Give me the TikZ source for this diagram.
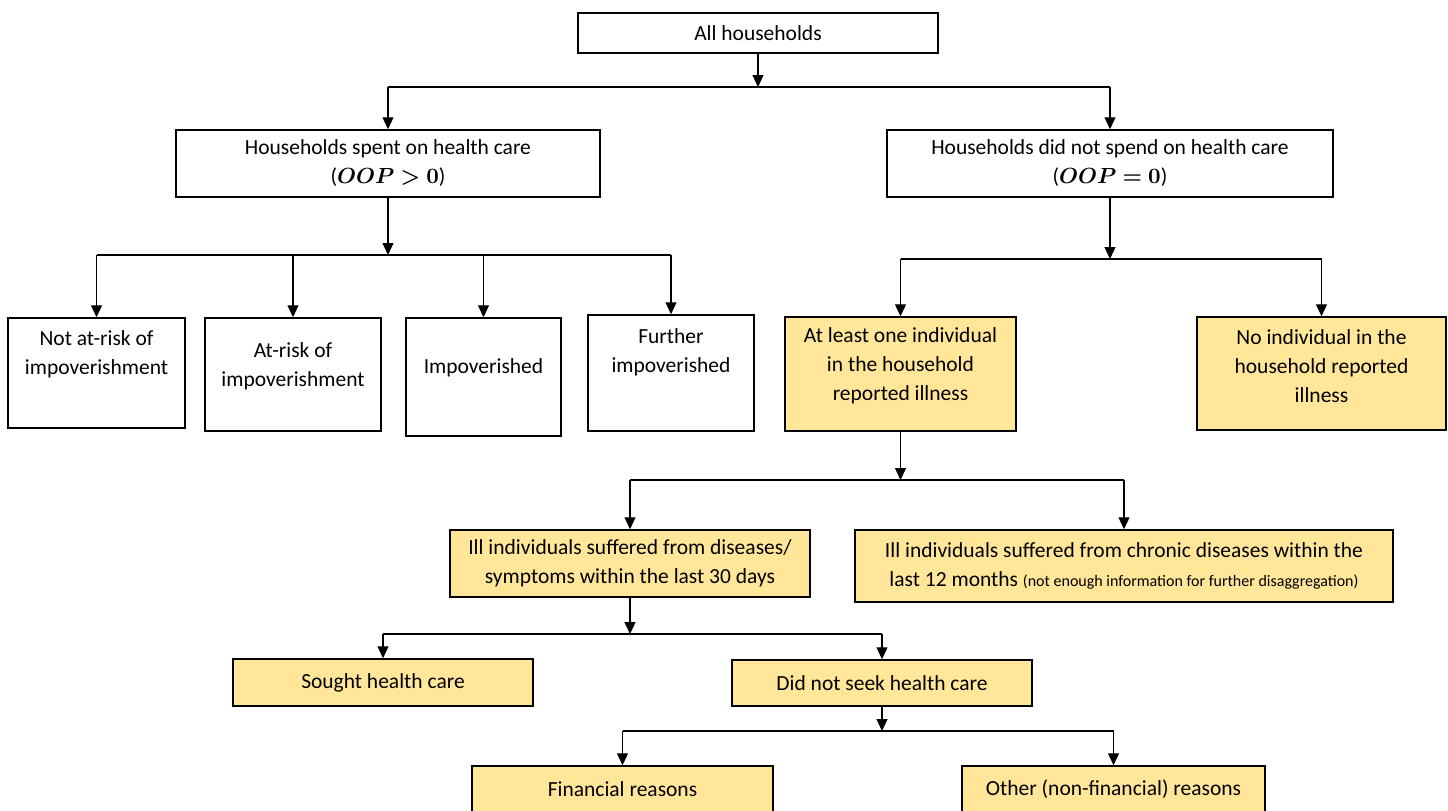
\documentclass[tikz,border=0pt]{standalone}
\usepackage{fontspec}
\setmainfont{Carlito}
\usepackage{amsmath}
\usepackage{amssymb}
\usepackage{bm}
\usetikzlibrary{arrows.meta}
\definecolor{boxgold}{RGB}{255,230,153}
\newcommand{\padb}[1]{\rule[-#1]{0pt}{0pt}}

\begin{document}
\begin{tikzpicture}[x=0.5pt,y=-0.5pt,
  box/.style={draw, line width=0.75pt, align=center, inner sep=2pt, font=\fontsize{10.75}{14.5}\selectfont},
  goldbox/.style={box, fill=boxgold},
  arr/.style={line width=0.6pt, -{Triangle[length=6pt,width=5.5pt]}},
  lnk/.style={line width=0.6pt}]
\useasboundingbox (0,0) rectangle (1448,810);

\node[box, minimum width=180pt, minimum height=20pt] (all) at (758,33) {All households};
\node[box, minimum width=212pt, minimum height=33.5pt] (spent) at (388,163.5) {Households spent on health care\\($\bm{OOP>0}$)};
\node[box, minimum width=223pt, minimum height=33.5pt] (nospend) at (1110,163.5) {Households did not spend on health care\\($\bm{OOP=0}$)};

\node[box, minimum width=88.5pt, minimum height=55pt] (notrisk) at (96.5,373) {Not at-risk of\\impoverishment\padb{20pt}};
\node[box, minimum width=88pt, minimum height=56.5pt] (atrisk) at (293,374.5) {At-risk of\\impoverishment\padb{10pt}};
\node[box, minimum width=77.5pt, minimum height=59pt] (impov) at (483.5,377) {Impoverished\padb{10.5pt}};
\node[box, minimum width=83pt, minimum height=58pt] (further) at (671,373) {Further\\impoverished\padb{22.5pt}};
\node[goldbox, minimum width=115.5pt, minimum height=57pt] (oneill) at (900.5,374) {At least one individual\\in the household\\reported illness\padb{10pt}};
\node[goldbox, minimum width=124.5pt, minimum height=56.5pt] (noill) at (1321.5,373.5) {No individual in the\\household reported\\illness\padb{7pt}};

\node[goldbox, minimum width=180pt, minimum height=33.5pt] (ill30) at (630,563.5) {Ill individuals suffered from diseases/\\symptoms within the last 30 days};
\node[goldbox, minimum width=269pt, minimum height=36pt] (chronic) at (1124,566) {Ill individuals suffered from chronic diseases within the\\last 12 months {\fontsize{8}{10}\selectfont(not enough information for further disaggregation)}};

\node[goldbox, minimum width=150pt, minimum height=23.5pt] (sought) at (383,682.5) {Sought health care};
\node[goldbox, minimum width=150pt, minimum height=23pt] (noseek) at (882,683) {Did not seek health care};
\node[goldbox, minimum width=150.5pt, minimum height=23.5pt] (financial) at (622.5,789.5) {Financial reasons};
\node[goldbox, minimum width=151.5pt, minimum height=23.5pt] (other) at (1113.5,789.5) {Other (non-financial) reasons};

\coordinate (s0) at (761,87);
\draw[arr] (all) -- (all |- s0);
\draw[lnk] (spent |- s0) -- (nospend |- s0);
\draw[arr] (spent |- s0) -- (spent);
\draw[arr] (nospend |- s0) -- (nospend);

\coordinate (s1) at (388,255);
\draw[arr] (spent) -- (spent |- s1);
\draw[lnk] (notrisk |- s1) -- (further |- s1);
\draw[arr] (notrisk |- s1) -- (notrisk);
\draw[arr] (atrisk |- s1) -- (atrisk);
\draw[arr] (impov |- s1) -- (impov);
\draw[arr] (further |- s1) -- (further);

\coordinate (s2) at (1104,259);
\draw[arr] (nospend) -- (nospend |- s2);
\draw[lnk] (oneill |- s2) -- (noill |- s2);
\draw[arr] (oneill |- s2) -- (oneill);
\draw[arr] (noill |- s2) -- (noill);

\coordinate (s3) at (900,480);
\draw[arr] (oneill) -- (oneill |- s3);
\draw[lnk] (ill30 |- s3) -- (chronic |- s3);
\draw[arr] (ill30 |- s3) -- (ill30);
\draw[arr] (chronic |- s3) -- (chronic);

\coordinate (s4) at (624,634);
\draw[arr] (ill30) -- (ill30 |- s4);
\draw[lnk] (sought |- s4) -- (noseek |- s4);
\draw[arr] (sought |- s4) -- (sought);
\draw[arr] (noseek |- s4) -- (noseek);

\coordinate (s5) at (878,731);
\draw[arr] (noseek) -- (noseek |- s5);
\draw[lnk] (financial |- s5) -- (other |- s5);
\draw[arr] (financial |- s5) -- (financial);
\draw[arr] (other |- s5) -- (other);

\end{tikzpicture}
\end{document}
